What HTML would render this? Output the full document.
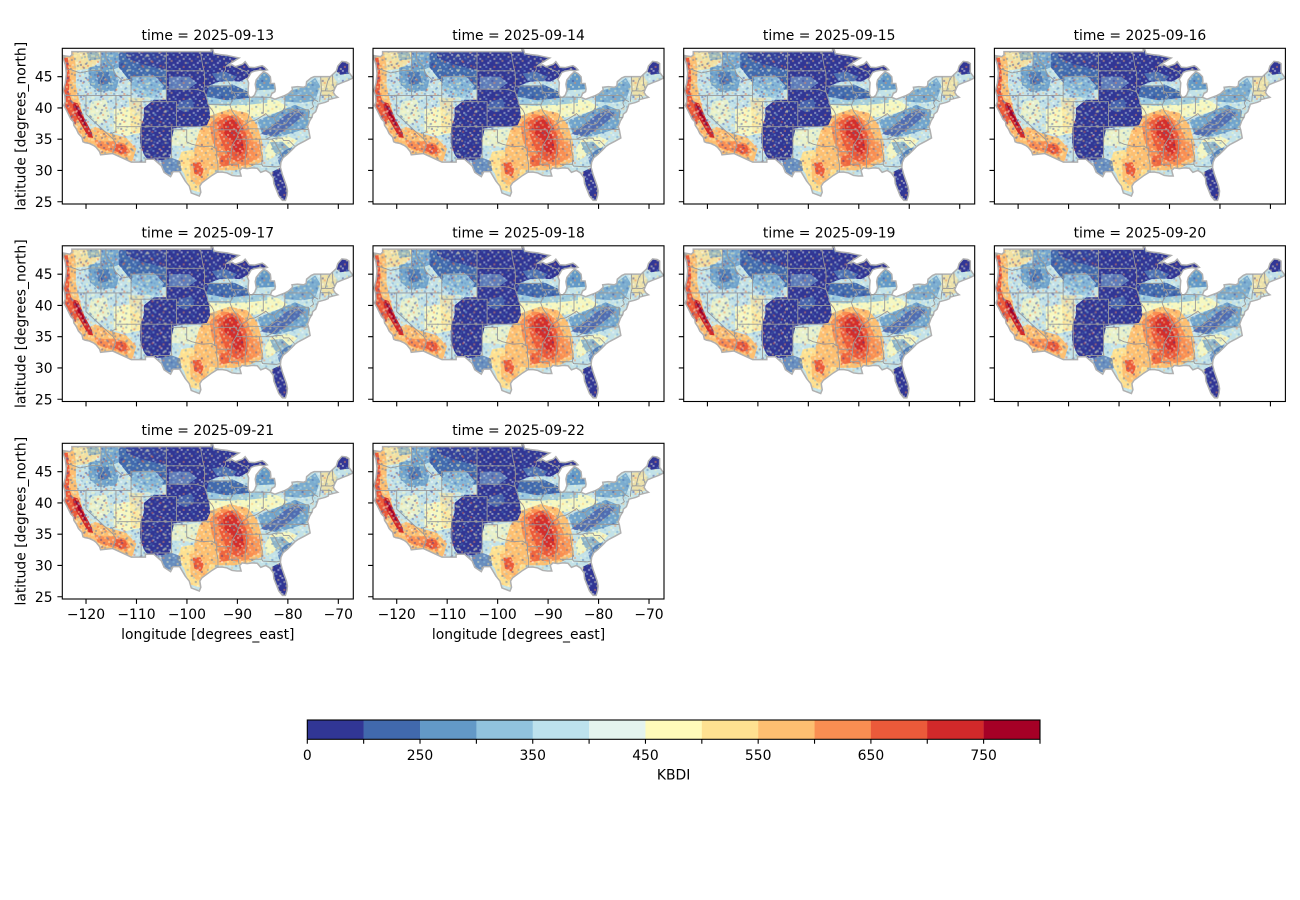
<!DOCTYPE html>
<html><head><meta charset="utf-8">
<style>
html,body{margin:0;padding:0;background:#fff;}
svg{display:block}
text{font-family:"DejaVu Sans","Liberation Sans",sans-serif;font-size:13.9px;fill:#000}
</style></head>
<body>
<svg width="1300" height="900" viewBox="0 0 1300 900" xmlns="http://www.w3.org/2000/svg">
<defs>
<path id="usp" vector-effect="non-scaling-stroke" d="M-124.7,-48.4L-124.1,-46.9L-124,-46.25L-123.9,-45.5L-124.1,-44L-124.5,-42.8L-124.2,-42L-124.1,-41L-124.4,-40.4L-123.8,-39.5L-123,-38.2L-122.5,-37.8L-122.4,-37.2L-121.9,-36.6L-121.5,-35.9L-120.8,-35.3L-120.6,-34.6L-120.2,-34.45L-119.3,-34.3L-118.5,-34L-118,-33.7L-117.3,-33L-117.1,-32.5L-114.7,-32.7L-111,-31.33L-108.2,-31.33L-108.2,-31.78L-106.5,-31.78L-105,-30.7L-104.5,-29.7L-103.2,-29L-102.7,-29.8L-101.4,-29.8L-100.3,-28.3L-99.5,-27.5L-99.1,-26.4L-97.5,-25.9L-97.2,-26.5L-97.4,-27.5L-97,-28L-96,-28.6L-95,-29.2L-94,-29.7L-93,-29.75L-92,-29.6L-91,-29.2L-90,-29.1L-89.2,-29.1L-89.5,-30L-89,-30.4L-88,-30.3L-87,-30.4L-86,-30.35L-85.3,-29.7L-84.3,-30L-83.5,-29.6L-82.8,-28.8L-82.7,-27.9L-82.2,-26.9L-81.7,-25.9L-81,-25.2L-80.4,-25.2L-80.1,-26L-80,-26.7L-80.2,-27.5L-80.6,-28.4L-81,-29.3L-81.4,-30.5L-81.3,-31.3L-80.9,-32L-80,-32.6L-79.1,-33.3L-78.5,-33.8L-77.8,-34.2L-76.6,-34.7L-75.5,-35.2L-75.8,-36.5L-76,-37L-75.6,-37.9L-75.1,-38.6L-75,-39L-74.4,-39.4L-74,-40.3L-73.9,-40.6L-72.5,-40.9L-71.9,-41.1L-71.9,-41.3L-71,-41.5L-70,-41.7L-70.5,-42L-70.9,-42.5L-70.6,-43.1L-70.2,-43.7L-69,-44.1L-68,-44.4L-67,-44.8L-67.8,-45.7L-67.8,-47.1L-68.3,-47.35L-69.2,-47.45L-70,-46.7L-70.3,-45.9L-71.1,-45.3L-71.5,-45L-74.7,-45L-75.3,-44.8L-76.2,-44.2L-76.3,-43.5L-76.8,-43.3L-78,-43.4L-79.1,-43.3L-79,-42.9L-79.8,-42.3L-80.5,-42L-81.5,-41.7L-82.5,-41.4L-83.4,-41.7L-83.1,-42.3L-82.5,-42.6L-82.4,-43L-82.6,-43.9L-83.4,-43.9L-83.3,-44.3L-83.4,-45L-84,-45.5L-84.7,-45.8L-85.5,-45.2L-86.2,-44.5L-86.4,-43.8L-86.2,-42.8L-86.5,-42.1L-87,-41.7L-87.5,-41.7L-87.8,-42.2L-87.8,-43L-87.7,-44L-88,-44.6L-87.6,-45.1L-87.2,-45.7L-86.5,-45.9L-85.5,-46.05L-84.7,-45.95L-84,-46.1L-84.5,-46.5L-85,-46.75L-86.5,-46.45L-87.6,-46.5L-88.4,-47.4L-88.9,-47L-90.4,-46.6L-91,-46.9L-92.1,-46.7L-91,-47.3L-90,-47.8L-89.6,-48L-90.8,-48.2L-92,-48.4L-93.5,-48.55L-94.6,-48.7L-94.8,-49.3L-95.15,-49.38L-95.15,-49L-122.8,-49L-122.8,-48.5L-123.2,-48.2Z"/>
<clipPath id="us"><use href="#usp"/></clipPath>
<pattern id="sp1" patternUnits="userSpaceOnUse" x="0" y="0" width="4" height="2.56">
<rect x="0" y="0" width=".4" height=".32" fill="#fffbba"/>
<rect x="1.2" y="0" width=".4" height=".32" fill="#91c3de"/>
<rect x="2.8" y="0" width=".4" height=".32" fill="#ffffff"/>
<rect x="2" y=".32" width=".4" height=".32" fill="#fee191"/>
<rect x="3.6" y=".32" width=".4" height=".32" fill="#6399c7"/>
<rect x=".4" y=".64" width=".4" height=".32" fill="#e4f4ee"/>
<rect x="1.6" y=".64" width=".4" height=".32" fill="#4169ad"/>
<rect x="3.2" y=".64" width=".4" height=".32" fill="#fffbba"/>
<rect x=".8" y=".96" width=".4" height=".32" fill="#fdbf71"/>
<rect x="2.4" y=".96" width=".4" height=".32" fill="#bde2ed"/>
<rect x="0" y="1.28" width=".4" height=".32" fill="#6399c7"/>
<rect x="2" y="1.28" width=".4" height=".32" fill="#ffffff"/>
<rect x="3.6" y="1.28" width=".4" height=".32" fill="#fee191"/>
<rect x="1.2" y="1.6" width=".4" height=".32" fill="#e4f4ee"/>
<rect x="2.8" y="1.6" width=".4" height=".32" fill="#313695"/>
<rect x=".4" y="1.92" width=".4" height=".32" fill="#fffbba"/>
<rect x="1.6" y="1.92" width=".4" height=".32" fill="#91c3de"/>
<rect x="3.2" y="1.92" width=".4" height=".32" fill="#f98e52"/>
<rect x="2.4" y="2.24" width=".4" height=".32" fill="#fffbba"/>
<rect x=".8" y="2.24" width=".4" height=".32" fill="#4169ad"/>
</pattern>
<pattern id="sp2" patternUnits="userSpaceOnUse" x="0.2" y="0.16" width="3.6" height="2.24">
<rect x=".4" y="0" width=".4" height=".32" fill="#4169ad"/>
<rect x="2.4" y="0" width=".4" height=".32" fill="#eb5a3a"/>
<rect x="1.6" y=".32" width=".4" height=".32" fill="#313695"/>
<rect x="3.2" y=".64" width=".4" height=".32" fill="#fffbba"/>
<rect x="0" y=".64" width=".4" height=".32" fill="#fffbba"/>
<rect x="1.2" y=".96" width=".4" height=".32" fill="#6399c7"/>
<rect x="2.8" y="1.28" width=".4" height=".32" fill="#4169ad"/>
<rect x=".8" y="1.6" width=".4" height=".32" fill="#eb5a3a"/>
<rect x="2" y="1.92" width=".4" height=".32" fill="#313695"/>
</pattern>
<symbol id="map" viewBox="-124.7 -49.54 57.77 24.91" preserveAspectRatio="none">
<g clip-path="url(#us)">
<rect x="-125" y="-50" width="59" height="26" fill="#c3e2e8"/>
<path fill="#fffbba" opacity=".85" d="M-114.5,-39.8L-111,-40.2L-108.8,-38L-109.2,-36L-112,-35.5L-114.5,-36Z"/>
<path fill="#fee191" opacity=".6" d="M-111.5,-41.6L-108.8,-41.6L-108.8,-36L-111,-36Z"/>
<path fill="#fee191" opacity=".8" d="M-122.8,-49L-116.8,-49L-117.2,-47.5L-119,-46.3L-122.2,-46Z"/>
<path fill="#fffbba" opacity=".6" d="M-119,-41L-116,-41.3L-115.2,-38.5L-117.5,-37.3L-119.5,-38.8Z"/>
<path fill="#fffbba" opacity=".85" d="M-96.5,-38.5L-95.5,-40.5L-91,-41.1L-86,-41.4L-82,-41.2L-80,-40.2L-81,-39.5L-84,-38.9L-88,-38.3L-93,-37.6Z"/>
<path fill="#fffbba" opacity=".8" d="M-84.5,-33.2L-83.5,-34.8L-80,-35.5L-78,-34.8L-79.2,-33.8L-81.5,-32.8L-84,-31.5Z"/>
<path fill="#fee191" d="M-101,-33L-97,-33.5L-94,-32L-94,-30L-96,-28.5L-97.5,-26.5L-99.5,-27L-100.5,-29.5L-102,-31Z"/>
<path fill="#fffbba" opacity=".6" d="M-103,-36.5L-100,-36.5L-98,-36.8L-96,-36L-96,-34L-99,-33.8L-103,-34Z"/>
<path fill="#fdbf71" d="M-97.5,-36.3L-95.5,-38.7L-91.5,-39.8L-88,-39.2L-86,-37.3L-85,-34.5L-84.8,-31.5L-87.5,-30.5L-90.5,-30L-93.5,-30L-96,-30.3L-98.5,-31L-98.5,-33.5Z"/>
<path fill="#fdbf71" d="M-121,-36L-118,-37L-115.5,-36L-112,-35.2L-110,-33.5L-110.8,-31.4L-114.7,-32.4L-117.2,-32.6L-118.5,-34L-120.5,-34.6Z"/>
<path fill="#fdbf71" d="M-125,-49L-122.5,-49L-122,-46.5L-122,-43.5L-121.3,-41L-120.5,-38.5L-119,-36L-118.5,-35L-121,-34.5L-122.5,-37L-124,-39.5L-125,-42Z"/>
<path fill="#fdbf71" d="M-99.5,-31.8L-96.8,-32.2L-95.2,-30.5L-96,-28.7L-97.8,-27.5L-99.2,-28.5Z"/>
<path fill="#f98e52" d="M-95.5,-37.5L-93,-39L-90,-38.8L-88,-37.5L-86.8,-35L-86.5,-32L-87.5,-31L-90,-30.6L-92.5,-31L-94,-32.5L-95,-35Z"/>
<path fill="#eb5a3a" d="M-94,-37.8L-91.5,-38.8L-89.5,-38L-88.3,-36L-87.6,-33.5L-88.2,-32L-90,-31.4L-91.5,-32L-92.5,-33.5L-93.5,-35.5Z"/>
<path fill="#d1292a" opacity=".9" d="M-92.8,-37.6L-90.8,-38.2L-89.6,-37L-89,-35L-88.6,-33.3L-89.5,-32.5L-90.6,-33.2L-91.2,-34.8L-92.5,-35.8Z"/>
<path fill="#eb5a3a" opacity=".8" d="M-93.5,-32.3L-91.8,-32.5L-91.5,-30.8L-93.5,-30.5Z"/>
<path fill="#f98e52" opacity=".8" d="M-88,-34.6L-85.6,-34.6L-85.2,-32L-87.8,-31.3Z"/>
<path fill="#eb5a3a" d="M-124.8,-48L-123.6,-48L-123.2,-45L-123.4,-42.5L-122.6,-40.5L-121.3,-38.8L-122.1,-37.3L-123.3,-38.4L-124.3,-40.3L-124.5,-42.8L-124.3,-45Z"/>
<path fill="#d1292a" d="M-122.7,-41L-121.6,-40.7L-120.3,-38.3L-118.8,-36L-118.6,-35.2L-119.5,-35.3L-121,-37.4L-122.4,-39.3Z"/>
<path fill="#a50026" d="M-122.3,-40.6L-121.8,-40.4L-120.6,-38.4L-119.8,-37L-120.3,-37.2L-121.4,-38.6Z"/>
<path fill="#f98e52" d="M-118.5,-35L-116.5,-34.6L-114.5,-34.7L-112.3,-34.3L-111.2,-33L-112,-32.2L-114.3,-32.8L-116,-33.2L-117.5,-33.6Z"/>
<path fill="#eb5a3a" d="M-114,-34.2L-112.2,-34L-111.6,-32.9L-113,-32.6L-114.3,-33.2Z"/>
<path fill="#eb5a3a" d="M-98.8,-31.2L-97.3,-31.3L-96.6,-30L-97.2,-29L-98.5,-29.5Z"/>
<path fill="#6399c7" opacity=".85" d="M-119.5,-46.5L-115,-47L-113.5,-44.5L-114,-42.8L-117.5,-42.5L-119.5,-44Z"/>
<path fill="#4169ad" opacity=".7" d="M-118,-45.8L-115.5,-45.8L-115,-44L-117.5,-43.5Z"/>
<path fill="#6399c7" opacity=".8" d="M-117,-49.2L-113.5,-49.2L-113.5,-46.5L-115,-46L-117,-47Z"/>
<path fill="#4169ad" d="M-113.5,-49.6L-104,-49.6L-104,-43L-107.5,-42.5L-110.5,-43.5L-112,-45L-113.5,-46.5Z"/>
<path fill="#313695" opacity=".8" d="M-112,-49.6L-104,-49.6L-104,-46L-108,-46.8L-112,-48Z"/>
<path fill="#91c3de" opacity=".85" d="M-110.8,-45L-106.5,-45.2L-104.5,-43.5L-105.5,-41.5L-109.5,-41.8L-111,-43Z"/>
<path fill="#6399c7" opacity=".6" d="M-120,-49.2L-117.5,-49.2L-117.2,-47.8L-119.5,-47.6Z"/>
<path fill="#4169ad" opacity=".7" d="M-105,-31.8L-103,-32L-101.3,-31.5L-101,-30L-102.6,-29.2L-104.5,-29.5L-105,-30.5Z"/>
<path fill="#6399c7" opacity=".85" d="M-86,-38L-82,-39.3L-78.5,-40.5L-75.5,-39.5L-76,-36.8L-79,-36L-82,-35.3L-85,-35.8Z"/>
<path fill="#313695" opacity=".5" d="M-85.5,-35.8L-83,-37.2L-80.5,-38.8L-78,-40L-76.8,-38.8L-79.5,-37L-82.5,-35.4Z"/>
<path fill="#6399c7" opacity=".7" d="M-83.5,-34.5L-81,-34.6L-79.3,-33.3L-80.5,-32L-82.5,-32.8Z"/>
<path fill="#4169ad" opacity=".7" d="M-82,-32L-80.5,-33.2L-79,-33.8L-80.5,-31.5L-81.6,-30.8Z"/>
<path fill="#6399c7" opacity=".75" d="M-80.5,-42.5L-77,-43.3L-74.5,-44.8L-73.5,-43.5L-74.5,-41.2L-77,-40.8L-80.5,-41Z"/>
<path fill="#fee191" opacity=".7" d="M-73.5,-44.8L-71,-45L-70,-44L-70.6,-42L-72.5,-41.5L-73.5,-42.5Z"/>
<path fill="#313695" d="M-70.5,-47.6L-67.5,-47.6L-67.5,-45.5L-69.5,-45.3L-70.5,-46Z"/>
<path fill="#6399c7" d="M-86.5,-46L-82,-46L-82,-43L-86.5,-42.8Z"/>
<path fill="#313695" d="M-83,-29.8L-81.2,-30.5L-80,-30L-79.5,-25L-82,-25L-83,-28Z"/>
<path fill="#4169ad" d="M-96.5,-43.6L-90.5,-43.6L-87,-42.3L-87.5,-41.6L-92,-41.2L-96.2,-41.8Z"/>
<path fill="#91c3de" opacity=".8" d="M-96.2,-41.8L-92,-41.2L-87.5,-41.6L-84,-41.8L-84,-40.8L-88,-40.5L-93,-40.3L-96,-40.5Z"/>
<path fill="#313695" d="M-104.05,-43.6L-95.5,-43.7L-96.2,-41.7L-98,-42.3L-101,-41.8L-104.05,-41.3Z"/>
<path fill="#313695" d="M-104.05,-49.6L-89,-49.6L-84,-46.5L-84,-45.6L-86.5,-45.9L-88,-44.8L-89.5,-44.2L-91.5,-44.3L-93.5,-44.2L-95.5,-43.6L-97.5,-43.3L-99.5,-43L-102,-43.2L-104.05,-43.5Z"/>
<path fill="#313695" d="M-106.5,-41.3L-104,-41.3L-101,-43L-98,-42.3L-96.2,-41.7L-95.6,-40.3L-95.3,-38.5L-96,-37.2L-98,-37L-100,-37L-102.5,-36.7L-103,-35L-103,-33L-103.5,-31.8L-105.5,-31.6L-107.5,-31.5L-108.5,-32.5L-109.3,-34.5L-109.2,-36.8L-108.5,-38.5L-108.5,-40Z"/>
<path fill="#91c3de" opacity=".5" d="M-103.5,-45L-99.5,-45L-98,-44L-100,-42.8L-103.5,-43Z"/>
<path fill="#6399c7" opacity=".6" d="M-95,-45.5L-92.5,-45.8L-90,-45L-91,-44.2L-94,-44.3Z"/>
<path fill="#6399c7" opacity=".45" d="M-101.5,-41L-99,-41.5L-98.5,-40L-100.5,-39.3L-102,-40Z"/>
<rect x="-125" y="-50" width="59" height="26" fill="url(#sp1)" opacity=".45"/>
<rect x="-125" y="-49.6" width="21" height="18.5" fill="url(#sp2)" opacity=".4"/>
</g>
<use href="#usp" fill="none" stroke="#b0b0b0" stroke-width="1.5"/>
<path fill="none" stroke="#999999" stroke-width="0.9" vector-effect="non-scaling-stroke" d="M-124,-46.25L-122.9,-46.1L-121.2,-45.6L-119.5,-45.9L-118.98,-46L-116.92,-46M-117.04,-49L-117.04,-46.42L-116.92,-46L-116.5,-45.5L-116.8,-44.9L-117.2,-44.3L-117.03,-43.8L-117.03,-42M-124.2,-42L-111.05,-42M-116.05,-49L-116.05,-47.98L-115.7,-47.4L-114.6,-46.6L-114.4,-45.5L-113.5,-44.9L-112.8,-44.4L-111.5,-44.55L-111.05,-44.5M-111.05,-41L-111.05,-45L-104.05,-45M-104.05,-49L-104.05,-41M-104.05,-45.94L-96.56,-45.94L-96.8,-46.6L-97.2,-48.5L-97.23,-49M-104.05,-43L-98.5,-43L-97.5,-42.85L-96.6,-42.6L-96.45,-42.5M-96.56,-45.94L-96.45,-45.3L-96.45,-43.5L-96.6,-43.2L-96.45,-42.5M-96.45,-43.5L-91.22,-43.5L-91.8,-44.3L-92.8,-44.75L-92.75,-45.6L-92.3,-46.1L-92.3,-46.6L-92.1,-46.7M-90.4,-46.58L-89.1,-46.1L-88.1,-45.8L-87.6,-45.1M-90.64,-42.5L-87.8,-42.5M-91.22,-43.5L-91.1,-42.7L-90.64,-42.5L-90.2,-41.8L-91,-41.2L-91.4,-40.4L-91,-39.5L-90.2,-38.6L-89.5,-37.3L-89.1,-36.95L-89.5,-36.5L-89.7,-36L-90.1,-35.1L-90.6,-34.5L-91,-34L-91.16,-33L-91.2,-32.2L-91.5,-31.3L-91.6,-31L-89.73,-31L-89.7,-30.6L-89.6,-30.2M-95.77,-40.58L-91.4,-40.58M-96.45,-42.5L-96.1,-41.8L-95.9,-41.3L-95.77,-40.58L-95.3,-40L-94.9,-39.6L-94.6,-39.1L-94.62,-36.5L-94.43,-35.4L-94.48,-33.64M-102.05,-40L-95.3,-40M-104.05,-41L-102.05,-41L-102.05,-37M-111.05,-41L-104.05,-41M-109.05,-41L-109.05,-31.33M-114.05,-42L-114.05,-36.2L-114.7,-36L-114.6,-35L-114.1,-34.3L-114.7,-32.7M-120,-42L-120,-39L-114.6,-35M-114.05,-37L-94.62,-37M-103,-37L-103,-36.5L-100,-36.5L-100,-34.56L-99,-34.2L-98,-34L-97,-33.8L-96,-33.85L-95,-33.9L-94.5,-33.6L-94.04,-33.55L-94.04,-32L-93.8,-31L-93.8,-29.7M-103,-36.5L-103.05,-32L-106.6,-32M-94.62,-36.5L-90.15,-36.5L-90,-36L-89.7,-36M-94.04,-33L-91.16,-33M-89.5,-36.5L-88.05,-36.5L-88.05,-36.68L-75.9,-36.55M-90.3,-35L-83.1,-35M-88.2,-35L-88.1,-34L-88.4,-31.9L-88.4,-30.4M-85.6,-35L-85.2,-32.9L-85,-32.3L-85.1,-31L-84.9,-30.7L-82.2,-30.57L-82,-30.6L-81.5,-30.7M-87.6,-30.99L-85,-31M-83.1,-35L-82.5,-34.5L-82,-33.7L-81.4,-32.9L-81,-32.1M-83.1,-35L-82.3,-35.2L-81,-35.15L-80.8,-34.8L-79.7,-34.8L-78.6,-33.9M-84.3,-35L-83.1,-35.5L-82.3,-36.1L-81.7,-36.6M-83.7,-36.6L-82.6,-37.3L-82,-37.5L-82.6,-38.2L-82.6,-38.4M-89.1,-37L-88.1,-37.5L-87.5,-37.9L-86.5,-38L-85.8,-38.3L-84.8,-38.8L-84.3,-39.1L-83.7,-38.6L-82.6,-38.4L-81.8,-39.1L-81,-39.5L-80.6,-40L-80.52,-40.64M-87.53,-41.76L-87.53,-39.4L-87.6,-39L-87.9,-38L-88.1,-37.5M-84.8,-41.7L-84.8,-39.1M-87.53,-41.76L-83.4,-41.7M-82,-37.5L-81,-37.3L-80.3,-37.5L-79.5,-38.4L-78.4,-39.2L-77.7,-39.3L-78.4,-39.6L-79.5,-39.2L-79.48,-39.72M-80.52,-39.72L-75.8,-39.72M-80.52,-39.72L-80.52,-42M-77.7,-39.3L-77.1,-38.9L-76.3,-38M-79.76,-42L-75.4,-42L-74.7,-41.35L-73.9,-41M-74.7,-41.35L-75.1,-40.8L-74.8,-40.2L-75.5,-39.8M-75.8,-39.72L-75.8,-38.45L-75.05,-38.45M-73.6,-41L-73.5,-42.05L-73.26,-42.75L-73.4,-45M-73.5,-42.05L-71.8,-42.02L-71.8,-41.3M-71.8,-42.02L-71.4,-42L-71.1,-41.5M-73.26,-42.75L-71.3,-42.7L-70.8,-42.9M-72.5,-42.73L-72,-44.3L-71.5,-45M-70.7,-43.1L-71,-43.9L-71.08,-45.3"/>
</symbol>
<g id="ax" fill="none" stroke="#000" stroke-width="1.1">
<rect x="0" y="0" width="291" height="155.7"/>
<path d="M0,28.39h-4.9M0,59.65h-4.9M0,90.92h-4.9M0,122.18h-4.9M0,153.45h-4.9M23.72,155.7v4.9M74.18,155.7v4.9M124.64,155.7v4.9M175.1,155.7v4.9M225.56,155.7v4.9M276.02,155.7v4.9"/>
</g>
</defs>

<use href="#map" x="62.3" y="48.3" width="291" height="155.7"/><use href="#ax" x="62.3" y="48.3"/>
<use href="#map" x="373" y="48.3" width="291" height="155.7"/><use href="#ax" x="373" y="48.3"/>
<use href="#map" x="683.7" y="48.3" width="291" height="155.7"/><use href="#ax" x="683.7" y="48.3"/>
<use href="#map" x="994.4" y="48.3" width="291" height="155.7"/><use href="#ax" x="994.4" y="48.3"/>
<use href="#map" x="62.3" y="245.8" width="291" height="155.7"/><use href="#ax" x="62.3" y="245.8"/>
<use href="#map" x="373" y="245.8" width="291" height="155.7"/><use href="#ax" x="373" y="245.8"/>
<use href="#map" x="683.7" y="245.8" width="291" height="155.7"/><use href="#ax" x="683.7" y="245.8"/>
<use href="#map" x="994.4" y="245.8" width="291" height="155.7"/><use href="#ax" x="994.4" y="245.8"/>
<use href="#map" x="62.3" y="443.3" width="291" height="155.7"/><use href="#ax" x="62.3" y="443.3"/>
<use href="#map" x="373" y="443.3" width="291" height="155.7"/><use href="#ax" x="373" y="443.3"/>

<g text-anchor="middle">
<text x="207.8" y="40">time = 2025-09-13</text>
<text x="518.5" y="40">time = 2025-09-14</text>
<text x="829.2" y="40">time = 2025-09-15</text>
<text x="1139.9" y="40">time = 2025-09-16</text>
<text x="207.8" y="237.5">time = 2025-09-17</text>
<text x="518.5" y="237.5">time = 2025-09-18</text>
<text x="829.2" y="237.5">time = 2025-09-19</text>
<text x="1139.9" y="237.5">time = 2025-09-20</text>
<text x="207.8" y="435">time = 2025-09-21</text>
<text x="518.5" y="435">time = 2025-09-22</text>
</g>

<g text-anchor="end">
<text x="52.6" y="81.7">45</text><text x="52.6" y="113">40</text><text x="52.6" y="144.2">35</text><text x="52.6" y="175.5">30</text><text x="52.6" y="206.8">25</text>
<text x="52.6" y="279.2">45</text><text x="52.6" y="310.5">40</text><text x="52.6" y="341.7">35</text><text x="52.6" y="373">30</text><text x="52.6" y="404.3">25</text>
<text x="52.6" y="476.7">45</text><text x="52.6" y="508">40</text><text x="52.6" y="539.2">35</text><text x="52.6" y="570.5">30</text><text x="52.6" y="601.8">25</text>
</g>

<g text-anchor="middle">
<text transform="translate(25.5,126.2) rotate(-90)">latitude [degrees_north]</text>
<text transform="translate(25.5,323.7) rotate(-90)">latitude [degrees_north]</text>
<text transform="translate(25.5,521.2) rotate(-90)">latitude [degrees_north]</text>
</g>

<g text-anchor="middle">
<text x="86" y="619.2">−120</text><text x="136.5" y="619.2">−110</text><text x="186.9" y="619.2">−100</text><text x="237.4" y="619.2">−90</text><text x="287.9" y="619.2">−80</text><text x="338.3" y="619.2">−70</text>
<text x="396.7" y="619.2">−120</text><text x="447.2" y="619.2">−110</text><text x="497.6" y="619.2">−100</text><text x="548.1" y="619.2">−90</text><text x="598.6" y="619.2">−80</text><text x="649" y="619.2">−70</text>
<text x="207.8" y="639">longitude [degrees_east]</text>
<text x="518.5" y="639">longitude [degrees_east]</text>
</g>

<g>
<rect x="307.3" y="720" width="56.6" height="19.3" fill="#313695"/>
<rect x="363.66" y="720" width="56.6" height="19.3" fill="#4169ad"/>
<rect x="420.02" y="720" width="56.6" height="19.3" fill="#6399c7"/>
<rect x="476.38" y="720" width="56.6" height="19.3" fill="#91c3de"/>
<rect x="532.74" y="720" width="56.6" height="19.3" fill="#bde2ed"/>
<rect x="589.1" y="720" width="56.6" height="19.3" fill="#e4f4ee"/>
<rect x="645.46" y="720" width="56.6" height="19.3" fill="#fffbba"/>
<rect x="701.82" y="720" width="56.6" height="19.3" fill="#fee191"/>
<rect x="758.18" y="720" width="56.6" height="19.3" fill="#fdbf71"/>
<rect x="814.54" y="720" width="56.6" height="19.3" fill="#f98e52"/>
<rect x="870.9" y="720" width="56.6" height="19.3" fill="#eb5a3a"/>
<rect x="927.26" y="720" width="56.6" height="19.3" fill="#d1292a"/>
<rect x="983.62" y="720" width="56.38" height="19.3" fill="#a50026"/>
<rect x="307.3" y="720" width="732.7" height="19.3" fill="none" stroke="#000" stroke-width="1.1"/>
<path fill="none" stroke="#000" stroke-width="1.1" d="M307.3,739.3v4.5M363.66,739.3v4.5M420.02,739.3v4.5M476.38,739.3v4.5M532.74,739.3v4.5M589.1,739.3v4.5M645.46,739.3v4.5M701.82,739.3v4.5M758.18,739.3v4.5M814.54,739.3v4.5M870.9,739.3v4.5M927.26,739.3v4.5M983.62,739.3v4.5M1040,739.3v4.5"/>
<g text-anchor="middle">
<text x="307.3" y="760">0</text>
<text x="420.02" y="760">250</text>
<text x="532.74" y="760">350</text>
<text x="645.46" y="760">450</text>
<text x="758.18" y="760">550</text>
<text x="870.9" y="760">650</text>
<text x="983.62" y="760">750</text>
<text x="673.65" y="779.3">KBDI</text>
</g>
</g>
</svg>
</body></html>
